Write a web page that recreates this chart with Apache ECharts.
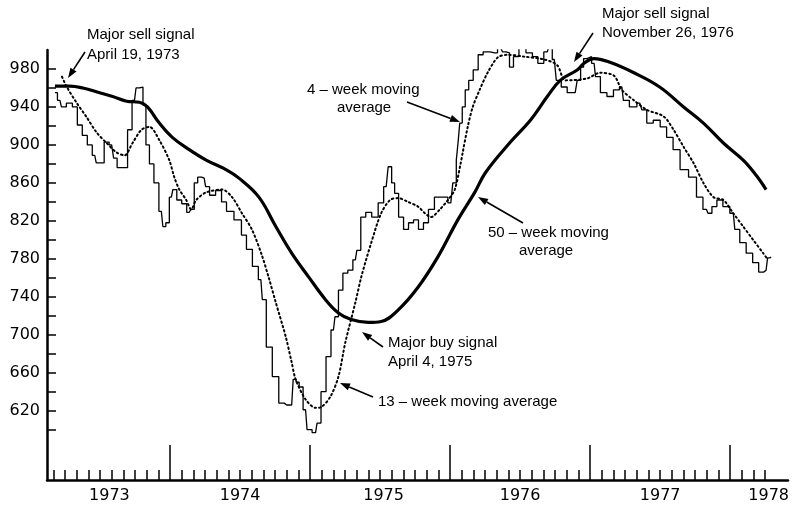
<!DOCTYPE html>
<html>
<head>
<meta charset="utf-8">
<script src="https://cdn.jsdelivr.net/npm/echarts@6/dist/echarts.min.js"></script>
<style>
  html, body { margin: 0; padding: 0; background: #fff; }
  #chart { width: 792px; height: 508px; }
</style>
</head>
<body>
<div id="chart"></div>
<script>
// x values are months counted from January 1973 (12 = Jan 1974)
var yearStart = 1973;

// 4-week moving average (thin line)
var fourWeekT = [2.13, 2.56, 2.81, 3.41, 3.84, 4.26, 4.69, 5.12, 5.54, 5.80, 6.14, 6.56, 6.99, 7.33, 7.59, 8.18, 8.53, 8.95, 9.21, 9.55,
  9.80, 10.06, 10.40, 10.83, 11.25, 11.51, 11.76, 12.11, 12.36, 12.79, 13.21, 13.64, 13.90, 14.24, 14.49, 14.92, 15.17, 15.60, 16.20, 16.62,
  17.05, 17.90, 18.33, 18.76, 19.35, 19.78, 20.03, 20.46, 21.06, 21.57, 21.99, 22.42, 22.68, 22.93, 23.19, 23.61, 23.87, 24.47, 24.72, 25.15,
  25.58, 26.00, 26.26, 26.60, 27.02, 27.45, 27.88, 28.13, 28.56, 28.98, 29.58, 30.09, 30.52, 30.86, 31.12, 31.37, 31.80, 32.22, 32.65, 33.08,
  33.50, 33.93, 34.36, 34.95, 35.55, 36.06, 36.40, 36.66, 36.74, 36.91, 37.17, 37.42, 37.77, 38.19, 38.62, 39.04, 39.81, 40.32, 40.66, 40.92,
  41.26, 41.60, 42.20, 42.80, 43.31, 43.73, 44.33, 44.58, 44.93, 45.27, 45.78, 46.29, 46.72, 47.06, 47.31, 47.57, 47.91, 48.34, 48.58, 49.18,
  49.70, 50.30, 50.72, 50.98, 51.75, 52.26, 52.60, 53.11, 53.71, 54.30, 54.81, 55.41, 56.01, 56.86, 57.37, 57.97, 58.23, 58.65, 59.08, 59.68,
  60.27, 60.53, 61.12, 61.63, 62.23, 62.66, 63.08, 63.34, 63.51];
var fourWeekV = [955, 947, 940, 944, 940, 921, 910, 900, 889, 881, 881, 903, 900, 886, 876, 876, 916, 947, 960, 961,
  942, 900, 880, 860, 830, 814, 818, 845, 853, 842, 838, 829, 832, 860, 866, 865, 856, 847, 852, 840,
  830, 821, 805, 790, 772, 758, 737, 687, 656, 628, 626, 626, 653, 650, 645, 621, 600, 597, 607, 640,
  677, 705, 719, 747, 765, 768, 779, 789, 824, 829, 824, 839, 856, 877, 860, 849, 824, 811, 818, 821,
  811, 818, 832, 845, 845, 839, 860, 884, 905, 923, 940, 958, 968, 979, 995, 998, 997, 1003, 998, 997,
  982, 993, 1003, 997, 993, 986, 998, 1003, 990, 968, 961, 955, 955, 968, 982, 991, 993, 986, 972, 955,
  951, 958, 961, 947, 940, 944, 937, 923, 926, 919, 908, 895, 874, 866, 845, 832, 828, 835, 842, 835,
  828, 811, 797, 786, 776, 766, 768, 781, 782];

// 13-week moving average (dotted line)
var thirteenWeekT = [2.73, 3.15, 4.01, 4.86, 5.71, 6.56, 7.42, 8.10, 8.78, 9.55, 10.23, 11.08, 11.93, 12.36, 12.79, 13.38, 13.81, 14.24, 15.09, 16.45,
  17.31, 18.16, 19.01, 19.86, 20.46, 21.06, 21.91, 22.42, 22.76, 23.61, 24.47, 24.98, 25.75, 26.43, 27.02, 27.88, 28.39, 29.24, 30.09, 30.86,
  31.54, 32.39, 33.25, 33.84, 34.36, 35.12, 35.81, 36.40, 36.91, 37.08, 37.51, 37.94, 38.53, 39.21, 40.07, 40.92, 42.37, 44.07, 45.18, 45.89,
  47.74, 48.85, 50.04, 50.72, 51.75, 52.85, 54.30, 55.15, 56.01, 56.86, 57.71, 58.57, 59.42, 60.27, 61.12, 61.97, 62.83, 63.25];
var thirteenWeekV = [972, 961, 944, 929, 913, 902, 892, 889, 902, 916, 919, 905, 884, 866, 853, 842, 832, 842, 850, 853,
  845, 828, 811, 784, 760, 734, 698, 671, 653, 632, 623, 624, 635, 656, 692, 734, 761, 797, 828, 842,
  844, 840, 835, 828, 824, 832, 842, 853, 881, 892, 919, 940, 958, 976, 992, 995, 993, 990, 984, 968,
  970, 976, 973, 958, 947, 937, 930, 916, 898, 881, 860, 845, 842, 828, 814, 800, 786, 779];

// 50-week moving average (heavy line)
var fiftyWeekT = [2.13, 3.41, 4.52, 5.97, 7.08, 8.27, 9.38, 10.06, 11.08, 12.19, 13.64, 15.09, 16.79, 17.90, 19.61, 21.06, 22.42, 23.87, 25.32, 26.43,
  27.53, 28.98, 30.09, 31.54, 33.25, 34.95, 36.66, 38.11, 39.04, 41.17, 42.88, 44.33, 45.44, 46.89, 47.48, 48.34, 49.70, 51.75, 53.96, 56.01,
  57.71, 59.42, 61.12, 62.23, 63.08];
var fiftyWeekV = [962, 962, 960, 955, 951, 946, 945, 940, 923, 908, 895, 884, 874, 865, 845, 814, 786, 761, 737, 723,
  716, 713, 714, 726, 750, 782, 821, 850, 871, 903, 926, 951, 968, 979, 986, 991, 987, 976, 961, 940,
  923, 902, 884, 868, 853];

var yTicks = [600, 620, 640, 660, 680, 700, 720, 740, 760, 780, 800, 820, 840, 860, 880, 900, 920, 940, 960, 980];
var yLabels = [620, 660, 700, 740, 780, 820, 860, 900, 940, 980];
var monthTicks = [];
for (var m = 2; m <= 63; m++) { if (m % 12 !== 0) monthTicks.push(m); }
var yearTicks = [12, 24, 36, 48, 60];
var yearLabelPos = [6.8, 18, 30.3, 42, 54, 63.3];

function pairs(t, v) {
  return t.map(function (x, i) { return [x, v[i]]; });
}

function arrow(x1, y1, x2, y2) {
  var a = Math.atan2(y2 - y1, x2 - x1), L = 10, W = 3.6;
  var bx = x2 - L * Math.cos(a), by = y2 - L * Math.sin(a);
  return [
    {type: 'line', shape: {x1: x1, y1: y1, x2: bx, y2: by}, style: {stroke: '#000', lineWidth: 1.6}},
    {type: 'polygon', shape: {points: [[x2, y2], [bx - W * Math.sin(a), by + W * Math.cos(a)], [bx + W * Math.sin(a), by - W * Math.cos(a)]]},
      style: {fill: '#000'}}
  ];
}

function label(text, x, y) {
  return {type: 'text', x: x, y: y,
    style: {text: text, fill: '#000', fontSize: 15, fontFamily: 'Liberation Sans', verticalAlign: 'middle'}};
}

var fontAxis = 'DejaVu Sans';
var myChart = echarts.init(document.getElementById('chart'));
var option = {
  animation: false,
  backgroundColor: '#fff',
  grid: {left: 47, right: 0, top: 50, bottom: 28},
  xAxis: [
    {
      type: 'value', min: 1.45, max: 64.96,
      axisLine: {show: true, lineStyle: {color: '#000', width: 2.5}},
      axisTick: {show: true, inside: true, length: 10, customValues: monthTicks, lineStyle: {color: '#000', width: 1.5}},
      axisLabel: {
        show: true, customValues: yearLabelPos, margin: 8, color: '#000', fontSize: 16, fontFamily: fontAxis,
        formatter: function (v) { return String(yearStart + Math.floor(v / 12)); }
      },
      splitLine: {show: false}
    },
    {
      type: 'value', min: 1.45, max: 64.96, position: 'bottom', offset: 0,
      axisLine: {show: false},
      axisTick: {show: true, inside: true, length: 35, customValues: yearTicks, lineStyle: {color: '#000', width: 1.5}},
      axisLabel: {show: false},
      splitLine: {show: false}
    }
  ],
  yAxis: {
    type: 'value', min: 547, max: 1000,
    axisLine: {show: true, lineStyle: {color: '#000', width: 2.5}},
    axisTick: {show: true, inside: true, length: 9, customValues: yTicks, lineStyle: {color: '#000', width: 1.5}},
    axisLabel: {show: true, customValues: yLabels, margin: 7, color: '#000', fontSize: 16, fontFamily: fontAxis},
    splitLine: {show: false}
  },
  series: [
    {
      name: '4-week moving average', type: 'line', data: pairs(fourWeekT, fourWeekV),
      showSymbol: false, step: 'middle', lineStyle: {color: '#000', width: 1.3}
    },
    {
      name: '13-week moving average', type: 'line', data: pairs(thirteenWeekT, thirteenWeekV),
      showSymbol: false, smooth: 0.3, lineStyle: {color: '#000', width: 2, type: [1.5, 3], cap: 'round'}
    },
    {
      name: '50-week moving average', type: 'line', data: pairs(fiftyWeekT, fiftyWeekV),
      showSymbol: false, smooth: 0.4, lineStyle: {color: '#000', width: 3.2}
    }
  ],
  graphic: [].concat(
    [label('Major sell signal', 87, 35), label('April 19, 1973', 87, 55)], arrow(85, 52, 68, 78),
    [label('4 – week moving', 307, 90), label('average', 337, 108)], arrow(407, 102, 460, 122),
    [label('Major sell signal', 602, 14), label('November 26, 1976', 602, 33)], arrow(593, 33, 574, 62),
    [label('50 – week moving', 488, 233), label('average', 519, 251)], arrow(523, 223, 478, 197),
    [label('Major buy signal', 388, 343), label('April 4, 1975', 388, 362)], arrow(383, 347, 362, 332),
    [label('13 – week moving average', 378, 402)], arrow(373, 397, 340, 383)
  )
};
myChart.setOption(option);
</script>
</body>
</html>
